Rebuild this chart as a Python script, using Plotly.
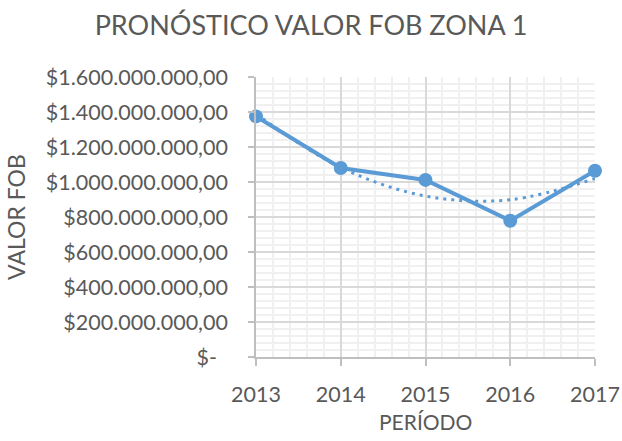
import numpy as np
import plotly.graph_objects as go

# Annual FOB value, zone 1
years = [2013, 2014, 2015, 2016, 2017]
fob_values = [1375e6, 1080e6, 1012e6, 779e6, 1064e6]

# Y-axis tick values and their accounting-style labels
y_ticks = [0, 200e6, 400e6, 600e6, 800e6, 1000e6, 1200e6, 1400e6, 1600e6]
y_tick_labels = ["$-\u00a0\u00a0", "$200.000.000,00", "$400.000.000,00", "$600.000.000,00",
                 "$800.000.000,00", "$1.000.000.000,00", "$1.200.000.000,00",
                 "$1.400.000.000,00", "$1.600.000.000,00"]

BLUE = "#5B9BD5"
GREY = "#595959"
AXIS = "#BFBFBF"
FONT = "Lato, Open Sans, sans-serif"

# Second-order polynomial trend fitted to the series
coef = np.polyfit(np.array(years) - years[0], fob_values, 2)
trend = np.polyval(coef, np.array(years) - years[0])

fig = go.Figure()
fig.add_trace(go.Scatter(
    x=years, y=trend, mode="lines",
    line=dict(color=BLUE, width=3, dash="3px,5px", shape="spline"),
    hoverinfo="skip", showlegend=False, cliponaxis=False))
fig.add_trace(go.Scatter(
    x=years, y=fob_values, mode="lines+markers",
    line=dict(color=BLUE, width=4), marker=dict(color=BLUE, size=14),
    showlegend=False, cliponaxis=False))

fig.update_layout(
    width=622, height=441,
    margin=dict(l=256, r=27, t=77, b=84),
    paper_bgcolor="white", plot_bgcolor="white",
    font=dict(family=FONT, color=GREY),
    title=dict(text="PRONÓSTICO VALOR FOB ZONA 1", x=0.5, xanchor="center",
               y=0.941, yanchor="middle", font=dict(size=27, color=GREY)),
    annotations=[dict(text="PERÍODO", xref="paper", yref="paper", x=0.5, y=-0.232,
                      xanchor="center", yanchor="middle", showarrow=False,
                      font=dict(size=21, color=GREY))],
)
fig.update_xaxes(
    range=[2013, 2017], tickvals=years, ticktext=[str(y) for y in years],
    tickfont=dict(size=21.5, color=GREY), ticks="outside", ticklen=7, tickcolor=AXIS,
    tickwidth=1.5, ticklabelstandoff=10, automargin=False,
    showline=True, linecolor=AXIS, linewidth=1.5,
    showgrid=True, gridcolor="#D9D9D9", gridwidth=1.5,
    minor=dict(dtick=0.2, showgrid=True, gridcolor="#F0F0F0", gridwidth=1.5),
    zeroline=False,
)
fig.update_yaxes(
    range=[0, 1600e6], tickvals=y_ticks, ticktext=y_tick_labels,
    tickfont=dict(size=21.5, color=GREY), ticks="outside", ticklen=6, tickcolor=AXIS,
    tickwidth=1.5, ticklabelstandoff=16, automargin="left",
    showline=True, linecolor=AXIS, linewidth=1.5,
    showgrid=True, gridcolor="#D9D9D9", gridwidth=1.5,
    minor=dict(dtick=40e6, showgrid=True, gridcolor="#F0F0F0", gridwidth=1.5),
    title=dict(text="VALOR FOB", font=dict(size=23, color=GREY), standoff=14),
    zeroline=False,
)

fig.write_html("out.html")
